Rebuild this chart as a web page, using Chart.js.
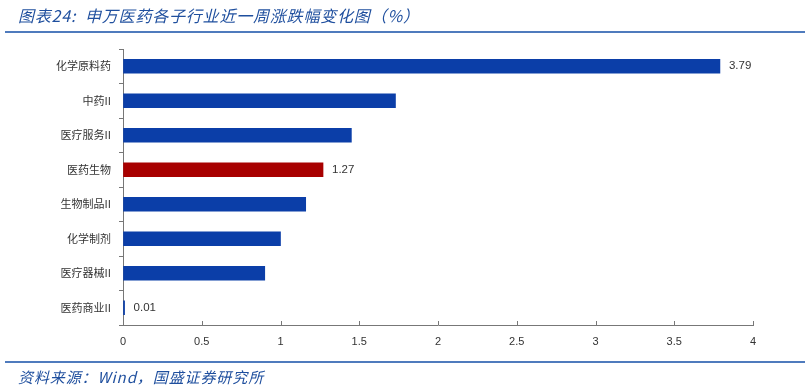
<!DOCTYPE html>
<html>
<head>
<meta charset="utf-8">
<script src="https://cdn.jsdelivr.net/npm/chart.js@4"></script>
<style>
    body { margin: 0; background: #fff; }
    #wrap { position: relative; width: 811px; height: 389px; }
    #chart { position: absolute; left: 0; top: 0; }
    .title {
        position: absolute; left: 18px; top: 3px;
        font-family: "Noto Sans CJK SC", sans-serif; font-style: italic;
        font-size: 16px; letter-spacing: 0.8px; color: #1f4f9e; white-space: nowrap;
    }
    .source {
        position: absolute; left: 18px; top: 366px;
        font-family: "Noto Sans CJK SC", sans-serif; font-style: italic;
        font-size: 15px; letter-spacing: 0.9px; color: #1f4f9e; white-space: nowrap;
    }
    .rule { position: absolute; left: 5px; width: 800px; height: 2px; background: #4f7bbd; }
</style>
</head>
<body>
<div id="wrap">
    <canvas id="chart" width="811" height="389"></canvas>
    <div class="title">图表24:&nbsp;&nbsp;申万医药各子行业近一周涨跌幅变化图（%）</div>
    <div class="rule" style="top:31px"></div>
    <div class="rule" style="top:361px"></div>
    <div class="source">资料来源：Wind，国盛证券研究所</div>
</div>
<script>
const categories = ['化学原料药', '中药II', '医疗服务II', '医药生物', '生物制品II', '化学制剂', '医疗器械II', '医药商业II'];
const changes = [3.79, 1.73, 1.45, 1.27, 1.16, 1.00, 0.90, 0.01];
const labelled = ['化学原料药', '医药生物', '医药商业II'];
const xTicks = [0, 0.5, 1, 1.5, 2, 2.5, 3, 3.5, 4];

const BLUE = '#0b3ea8';
const RED = '#a80000';

const barLabels = {
    id: 'barLabels',
    afterDatasetsDraw(chart) {
        const c = chart.ctx;
        const meta = chart.getDatasetMeta(0);
        c.save();
        c.font = '11.5px "Liberation Sans", sans-serif';
        c.fillStyle = '#333';
        c.textBaseline = 'middle';
        meta.data.forEach((bar, i) => {
            if (!labelled.includes(categories[i])) return;
            c.fillText(changes[i].toFixed(2), bar.x + 9, bar.y);
        });
        c.restore();
    }
};

// small tick marks pointing up from the x axis
const innerTicks = {
    id: 'innerTicks',
    afterDraw(chart) {
        const c = chart.ctx;
        const x = chart.scales.x;
        const bottom = chart.chartArea.bottom;
        c.save();
        c.strokeStyle = '#777';
        c.lineWidth = 1;
        for (const t of xTicks) {
            const px = Math.round(x.getPixelForValue(t)) + 0.5;
            c.beginPath();
            c.moveTo(px, bottom);
            c.lineTo(px, bottom - 4);
            c.stroke();
        }
        c.restore();
    }
};

new Chart(document.querySelector('#chart').getContext('2d'), {
    type: 'bar',
    data: {
        labels: categories,
        datasets: [{
            data: changes,
            backgroundColor: categories.map(c => c === '医药生物' ? RED : BLUE),
            barThickness: 14,
            minBarLength: 1
        }]
    },
    options: {
        indexAxis: 'y',
        responsive: false,
        animation: false,
        layout: { padding: { top: 49, right: 58, bottom: 34, left: 0 } },
        plugins: { legend: { display: false }, tooltip: { enabled: false } },
        scales: {
            x: {
                min: 0,
                max: 4,
                afterBuildTicks: (scale) => { scale.ticks = xTicks.map(v => ({ value: v })); },
                afterFit: (scale) => { scale.height = 30; },
                grid: { drawOnChartArea: false, drawTicks: false },
                border: { color: '#777' },
                ticks: {
                    padding: 10,
                    color: '#333',
                    font: { family: '"Liberation Sans", sans-serif', size: 11 },
                    callback: (v) => String(v)
                }
            },
            y: {
                afterFit: (scale) => { scale.width = 123; },
                grid: { drawOnChartArea: false, tickLength: 4, offset: true, color: '#777' },
                border: { color: '#777' },
                ticks: {
                    padding: 8,
                    color: '#333',
                    font: { family: '"Noto Sans CJK SC", sans-serif', size: 11 }
                }
            }
        }
    },
    plugins: [barLabels, innerTicks]
});
</script>
</body>
</html>
